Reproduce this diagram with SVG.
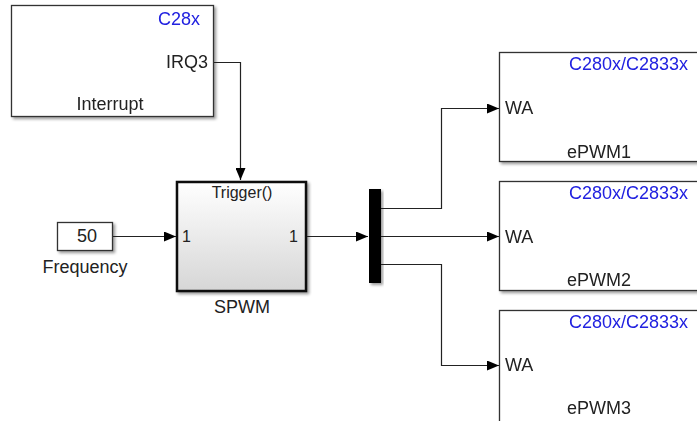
<svg xmlns="http://www.w3.org/2000/svg" width="697" height="421" viewBox="0 0 697 421">
<defs>
<linearGradient id="g" x1="0" y1="0" x2="0" y2="1"><stop offset="0" stop-color="#ffffff"/><stop offset="1" stop-color="#d6d6d6"/></linearGradient>
<filter id="sh" x="-10%" y="-10%" width="130%" height="130%"><feGaussianBlur in="SourceAlpha" stdDeviation="1.5"/><feOffset dx="2" dy="2"/><feComponentTransfer><feFuncA type="linear" slope="0.4"/></feComponentTransfer><feMerge><feMergeNode/><feMergeNode in="SourceGraphic"/></feMerge></filter>
<marker id="ar" markerWidth="12" markerHeight="10" refX="12" refY="5" orient="auto" markerUnits="userSpaceOnUse"><path d="M0,0 L12,5 L0,10 z" fill="#000"/></marker>
</defs>
<style>
text{font-family:"Liberation Sans",Arial,sans-serif;font-size:18px;fill:#222}
.blue{fill:#2020e0}
.sm{font-size:16px}
.blk{fill:#fff;stroke:#333;stroke-width:1.3}
.ln{fill:none;stroke:#222;stroke-width:1.2}
</style>
<rect width="697" height="421" fill="#fff"/>
<g id="interrupt" filter="url(#sh)">
<rect class="blk" x="11.5" y="5.5" width="202" height="111"/>
<text class="blue" x="200" y="25" text-anchor="end">C28x</text>
<text x="208" y="68" text-anchor="end">IRQ3</text>
<text x="110" y="110" text-anchor="middle">Interrupt</text>
</g>
<g id="frequency">
<rect class="blk" x="57.5" y="222.5" width="55" height="28" filter="url(#sh)"/>
<text x="87" y="242" text-anchor="middle">50</text>
<text x="85" y="273" text-anchor="middle">Frequency</text>
</g>
<g id="spwm">
<rect x="177" y="182" width="129" height="109" fill="url(#g)" stroke="#111" stroke-width="2.5" filter="url(#sh)"/>
<text class="sm" x="242" y="198" text-anchor="middle">Trigger()</text>
<text class="sm" x="182" y="242">1</text>
<text class="sm" x="298" y="242" text-anchor="end">1</text>
<text x="242" y="313" text-anchor="middle">SPWM</text>
</g>
<g id="demux">
<rect x="369" y="189" width="12" height="94" fill="#000" filter="url(#sh)"/>
</g>
<g id="epwm1" filter="url(#sh)">
<rect class="blk" x="499.5" y="52.5" width="210" height="109"/>
<text class="blue" x="688" y="70" text-anchor="end">C280x/C2833x</text>
<text x="505" y="114">WA</text>
<text x="567" y="158">ePWM1</text>
</g>
<g id="epwm2" filter="url(#sh)">
<rect class="blk" x="499.5" y="181.5" width="210" height="109"/>
<text class="blue" x="688" y="199" text-anchor="end">C280x/C2833x</text>
<text x="505" y="243">WA</text>
<text x="567" y="286">ePWM2</text>
</g>
<g id="epwm3" filter="url(#sh)">
<rect class="blk" x="499.5" y="310.5" width="210" height="130"/>
<text class="blue" x="688" y="328" text-anchor="end">C280x/C2833x</text>
<text x="505" y="371">WA</text>
<text x="567" y="414">ePWM3</text>
</g>
<g id="connectors">
<path class="ln" d="M214,62.5 H240.5 V180" marker-end="url(#ar)"/>
<path class="ln" d="M113,236.5 H176" marker-end="url(#ar)"/>
<path class="ln" d="M307,236.5 H368" marker-end="url(#ar)"/>
<path class="ln" d="M381,208.5 H441.5 V108.5 H499" marker-end="url(#ar)"/>
<path class="ln" d="M381,236.5 H499" marker-end="url(#ar)"/>
<path class="ln" d="M381,264.5 H441.5 V365.5 H499" marker-end="url(#ar)"/>
</g>
</svg>
